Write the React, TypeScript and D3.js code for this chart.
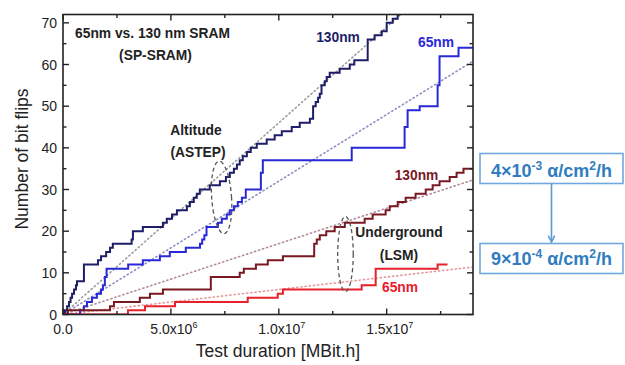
import React from "react";
import * as d3 from "d3";

const W = 625;
const H = 365;
const PL = 63, PR = 473, PT = 14.5, PB = 314.5;

// x in units of 1e6 MBit.h
const xMax = 19;
const yMax = 72;

const xMajor = [0, 5, 10, 15];
const xMinor = [2.5, 7.5, 12.5, 17.5];
const xTickMant = ["0.0", "5.0x10", "1.0x10", "1.5x10"];
const xTickExp = ["", "6", "7", "7"];
const yMajor = [0, 10, 20, 30, 40, 50, 60, 70];
const yMinor = [5, 15, 25, 35, 45, 55, 65];

// 130nm altitude (ASTEP)
const alt130T = [0.09, 0.19, 0.28, 0.35, 0.42, 0.51, 0.6, 0.65, 0.97, 1.62, 1.76, 2.0, 2.18, 2.31, 3.18, 3.24, 3.7, 4.63, 4.81, 5.05, 5.28, 5.74, 5.88, 6.06, 6.2, 6.34, 6.8, 7.27, 7.55, 7.73, 7.92, 8.06, 8.19, 8.33, 8.52, 8.7, 8.98, 9.44, 9.81, 10.14, 10.6, 10.97, 11.44, 11.59, 11.71, 11.82, 11.9, 11.98, 12.13, 12.22, 12.36, 12.82, 13.29, 13.5, 14.12, 14.44, 14.77, 15.0, 15.28, 15.51];
const alt130N = [1, 2, 3, 4, 5, 6, 7, 8, 12, 13, 14, 15, 16, 17, 18, 20, 21, 22, 23, 24, 25, 26, 27, 28, 29, 30, 31, 32, 33, 34, 35, 36, 37, 38, 39, 40, 41, 42, 43, 44, 45, 46, 47, 50, 51, 52, 53, 55, 56, 57, 58, 59, 60, 61, 66, 67, 68, 70, 71, 72];
const alt130End = 15.6;

// 65nm altitude (ASTEP)
const alt65T = [0.79, 0.97, 1.11, 1.34, 1.57, 1.76, 1.85, 1.94, 2.02, 3.02, 3.7, 4.49, 4.95, 5.69, 6.35, 6.45, 6.55, 6.65, 7.18, 7.36, 7.59, 7.73, 7.92, 8.1, 8.29, 8.47, 9.17, 9.26, 13.38, 15.83, 15.97, 16.53, 17.36, 17.45, 18.33];
const alt65N = [1, 2, 3, 4, 5, 6, 7, 9, 11, 12, 13, 14, 15, 16, 17, 18, 19, 21, 22, 23, 24, 25, 26, 27, 28, 30, 34, 37, 40, 45, 49, 50, 55, 62, 64];
const alt65End = 19;

// 130nm underground (LSM)
const ug130T = [0.23, 2.18, 2.36, 3.56, 4.03, 4.63, 6.85, 8.19, 8.38, 8.94, 9.49, 10.19, 11.64, 11.76, 11.9, 12.2, 12.59, 13.06, 13.98, 14.35, 14.95, 15.14, 15.51, 15.88, 16.34, 16.81, 17.13, 17.45, 17.92, 18.24, 18.56];
const ug130N = [1, 2, 3, 4, 5, 6, 9, 10, 11, 12, 13, 14, 17, 18, 19, 20, 21, 22, 23, 24, 25, 26, 27, 28, 29, 30, 31, 32, 33, 34, 35];
const ug130End = 19;

// 65nm underground (LSM)
const ug65T = [3.01, 3.8, 5.19, 8.56, 9.95, 10.19, 13.84, 14.49, 17.36];
const ug65N = [1, 2, 3, 4, 5, 6, 7, 11, 12];
const ug65End = 17.82;

// linear fits (bit flips per 1e6 MBit.h)
const fitSlopes = [4.6, 3.2, 1.7, 0.6];
const fitColors = ["#9a9a9a", "#8c8cc4", "#b08c9c", "#e4989c"];

const x = d3.scaleLinear().domain([0, xMax]).range([PL, PR]);
const y = d3.scaleLinear().domain([0, yMax]).range([PB, PT]);

function stepPts(ts: number[], ns: number[], end: number): [number, number][] {
  const pts: [number, number][] = [[0, 0]];
  ts.forEach((t, i) => pts.push([t, ns[i]]));
  pts.push([end, ns[ns.length - 1]]);
  return pts;
}

const stepLine = d3
  .line<[number, number]>()
  .x((d) => x(d[0]))
  .y((d) => y(d[1]))
  .curve(d3.curveStepAfter);

const series = [
  { pts: stepPts(alt130T, alt130N, alt130End), color: "#1e1e68" },
  { pts: stepPts(alt65T, alt65N, alt65End), color: "#2828d8" },
  { pts: stepPts(ug130T, ug130N, ug130End), color: "#7a1822" },
  { pts: stepPts(ug65T, ug65N, ug65End), color: "#e8202a" },
];

const FONT = "'Liberation Sans', Arial, Helvetica, sans-serif";

export default function App() {
  return (
    <svg width={W} height={H} style={{ position: "absolute", left: 0, top: 0, background: "#fff" }} fontFamily={FONT}>
      <defs>
        <clipPath id="plotclip">
          <rect x={PL} y={PT} width={PR - PL} height={PB - PT} />
        </clipPath>
        <marker id="arr" viewBox="0 0 10 10" refX="9" refY="5" markerWidth="5" markerHeight="5" orient="auto" markerUnits="strokeWidth">
          <path d="M1,1 L9,5 L1,9" fill="none" stroke="#5b9bd5" strokeWidth="2" />
        </marker>
      </defs>
      <rect x={0} y={0} width={W} height={H} fill="#fff" />

      {/* fit lines */}
      <g clipPath="url(#plotclip)">
        {fitSlopes.map((s, i) => {
          const xe = Math.min(xMax, yMax / s);
          return (
            <line
              key={i}
              x1={x(0)}
              y1={y(0)}
              x2={x(xe)}
              y2={y(s * xe)}
              stroke={fitColors[i]}
              strokeWidth={1.6}
              strokeDasharray="1.2 3"
              strokeLinecap="round"
            />
          );
        })}
      </g>

      {/* step series */}
      <g clipPath="url(#plotclip)">
        {series.map((s, i) => (
          <path key={i} d={stepLine(s.pts) || ""} fill="none" stroke={s.color} strokeWidth={2} />
        ))}
      </g>

      {/* dashed ellipses */}
      <ellipse
        cx={x(7.35)}
        cy={y(28.1)}
        rx={x(0.46) - x(0)}
        ry={y(0) - y(8.7)}
        fill="none"
        stroke="#555"
        strokeWidth={1.3}
        strokeDasharray="4 3"
        transform={`rotate(-4 ${x(7.35)} ${y(28.1)})`}
      />
      <ellipse
        cx={x(13.09)}
        cy={y(14.5)}
        rx={x(0.36) - x(0)}
        ry={y(0) - y(9.0)}
        fill="none"
        stroke="#555"
        strokeWidth={1.3}
        strokeDasharray="4 3"
      />

      {/* frame */}
      <rect x={PL} y={PT} width={PR - PL} height={PB - PT} fill="none" stroke="#222" strokeWidth={1.6} />

      {/* ticks */}
      <g stroke="#222" strokeWidth={1.4}>
        {xMajor.map((v) => (
          <g key={"xm" + v}>
            <line x1={x(v)} x2={x(v)} y1={PB} y2={PB - 6} />
            <line x1={x(v)} x2={x(v)} y1={PT} y2={PT + 6} />
          </g>
        ))}
        {xMinor.map((v) => (
          <g key={"xn" + v}>
            <line x1={x(v)} x2={x(v)} y1={PB} y2={PB - 3.5} />
            <line x1={x(v)} x2={x(v)} y1={PT} y2={PT + 3.5} />
          </g>
        ))}
        {yMajor.map((v) => (
          <g key={"ym" + v}>
            <line x1={PL} x2={PL + 6} y1={y(v)} y2={y(v)} />
            <line x1={PR} x2={PR - 6} y1={y(v)} y2={y(v)} />
          </g>
        ))}
        {yMinor.map((v) => (
          <g key={"yn" + v}>
            <line x1={PL} x2={PL + 3.5} y1={y(v)} y2={y(v)} />
            <line x1={PR} x2={PR - 3.5} y1={y(v)} y2={y(v)} />
          </g>
        ))}
      </g>

      {/* tick labels */}
      <g fontSize={14} fill="#222">
        {yMajor.map((v) => (
          <text key={"yl" + v} x={57} y={y(v) + 5} textAnchor="end">
            {v}
          </text>
        ))}
        {xMajor.map((v, i) => (
          <text key={"xl" + v} x={x(v) + (xTickExp[i] ? 3 : 0)} y={334} textAnchor="middle">
            {xTickMant[i]}
            {xTickExp[i] ? (
              <tspan dy={-6} fontSize={9}>
                {xTickExp[i]}
              </tspan>
            ) : null}
          </text>
        ))}
      </g>

      {/* axis titles */}
      <text x={278} y={357} textAnchor="middle" fontSize={17.5} fill="#222">
        Test duration [MBit.h]
      </text>
      <text transform="translate(28,159) rotate(-90)" textAnchor="middle" fontSize={17.5} fill="#222">
        Number of bit flips
      </text>

      {/* annotations */}
      <g fontWeight="bold" fontSize={13.8} textAnchor="middle">
        <text x={152.5} y={38} fill="#222">65nm vs. 130 nm SRAM</text>
        <text x={155.5} y={60} fill="#222">(SP-SRAM)</text>
        <text x={196} y={135} fill="#222">Altitude</text>
        <text x={198} y={156.5} fill="#222">(ASTEP)</text>
        <text x={338} y={41.5} fill="#1e1e68">130nm</text>
        <text x={436} y={46.5} fill="#2828d8">65nm</text>
        <text x={416.5} y={180} fill="#7a1822">130nm</text>
        <text x={399} y={236.5} fill="#222">Underground</text>
        <text x={399} y={260} fill="#222">(LSM)</text>
        <text x={400} y={291.5} fill="#e8202a">65nm</text>
      </g>

      {/* flux boxes */}
      <rect x={480} y={153.5} width={143} height={30} fill="#fff" stroke="#6fa8dc" strokeWidth={1.6} />
      <rect x={480} y={243.5} width={143} height={30} fill="#fff" stroke="#6fa8dc" strokeWidth={1.6} />
      <line x1={551.5} y1={183.5} x2={551.5} y2={242} stroke="#5b9bd5" strokeWidth={1.6} markerEnd="url(#arr)" />
      <g fontWeight="bold" fontSize={18} fill="#2f7cc0" textAnchor="middle">
        <text x={551.5} y={176.5}>
          4×10<tspan dy={-7} fontSize={12}>-3</tspan>
          <tspan dy={7}> α/cm</tspan>
          <tspan dy={-7} fontSize={12}>2</tspan>
          <tspan dy={7}>/h</tspan>
        </text>
        <text x={551.5} y={264.5}>
          9×10<tspan dy={-7} fontSize={12}>-4</tspan>
          <tspan dy={7}> α/cm</tspan>
          <tspan dy={-7} fontSize={12}>2</tspan>
          <tspan dy={7}>/h</tspan>
        </text>
      </g>
    </svg>
  );
}
